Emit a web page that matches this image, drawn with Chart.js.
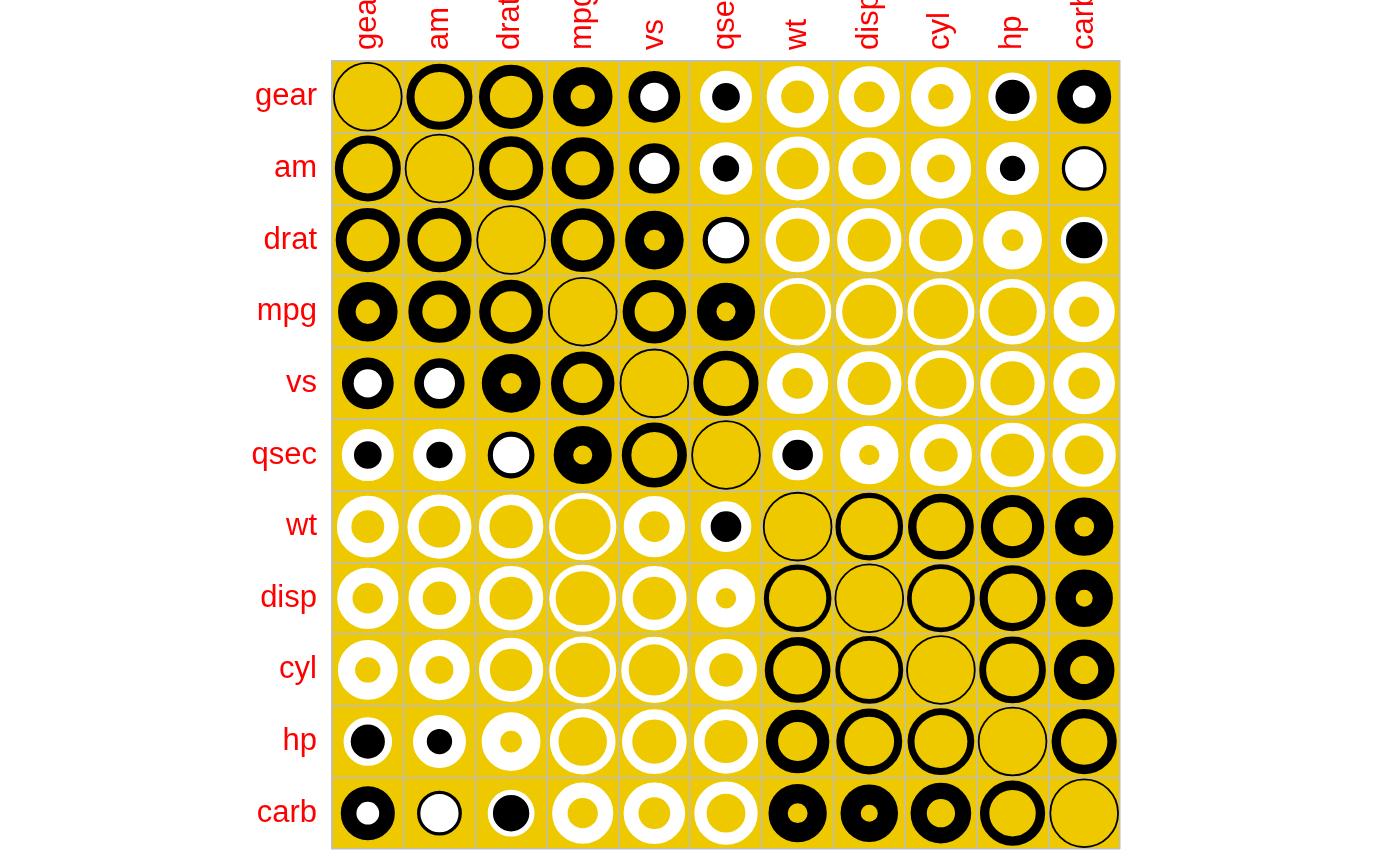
<!DOCTYPE html>
<html>
<head>
<meta charset="utf-8">
<script src="https://cdn.jsdelivr.net/npm/chart.js@4/dist/chart.umd.min.js"></script>
<style>
  html, body { margin: 0; padding: 0; background: #ffffff; }
  #wrap { width: 1400px; height: 866px; position: relative; }
</style>
</head>
<body>
<div id="wrap"><canvas id="c" width="1400" height="866"></canvas></div>
<script>
// Variable order (AOE ordering)
const vars = ['gear', 'am', 'drat', 'mpg', 'vs', 'qsec', 'wt', 'disp', 'cyl', 'hp', 'carb'];

// Correlation rows, one per variable, columns in the order of `vars`
const rowGear = [1.000, 0.794, 0.700, 0.480, 0.206, -0.213, -0.583, -0.556, -0.493, -0.126, 0.274];
const rowAm   = [0.794, 1.000, 0.713, 0.600, 0.168, -0.230, -0.692, -0.591, -0.523, -0.243, 0.058];
const rowDrat = [0.700, 0.713, 1.000, 0.681, 0.440, 0.091, -0.712, -0.710, -0.700, -0.449, -0.091];
const rowMpg  = [0.480, 0.600, 0.681, 1.000, 0.664, 0.419, -0.868, -0.848, -0.852, -0.776, -0.551];
const rowVs   = [0.206, 0.168, 0.440, 0.664, 1.000, 0.745, -0.555, -0.710, -0.811, -0.723, -0.570];
const rowQsec = [-0.213, -0.230, 0.091, 0.419, 0.745, 1.000, -0.175, -0.434, -0.591, -0.708, -0.656];
const rowWt   = [-0.583, -0.692, -0.712, -0.868, -0.555, -0.175, 1.000, 0.888, 0.782, 0.659, 0.428];
const rowDisp = [-0.556, -0.591, -0.710, -0.848, -0.710, -0.434, 0.888, 1.000, 0.902, 0.791, 0.395];
const rowCyl  = [-0.493, -0.523, -0.700, -0.852, -0.811, -0.591, 0.782, 0.902, 1.000, 0.832, 0.527];
const rowHp   = [-0.126, -0.243, -0.449, -0.776, -0.723, -0.708, 0.659, 0.791, 0.832, 1.000, 0.750];
const rowCarb = [0.274, 0.058, -0.091, -0.551, -0.570, -0.656, 0.428, 0.395, 0.527, 0.750, 1.000];

const corrRows = [rowGear, rowAm, rowDrat, rowMpg, rowVs, rowQsec, rowWt, rowDisp, rowCyl, rowHp, rowCarb];

const GOLD = '#EEC900';
const POS = '#000000';
const NEG = '#FFFFFF';
const GRID = '#BEBEBE';
const LABEL = '#FF0000';
const FONT = '"Liberation Sans", Arial, Helvetica, sans-serif';

const points = [];
corrRows.forEach((row, i) => {
  row.forEach((v, j) => points.push({ x: vars[j], y: vars[i], v: v }));
});

function cellSize(chart) {
  const xs = chart.scales.x;
  return (xs.right - xs.left) / vars.length;
}
// geometry of a ring derived from |r|
function ringGeom(v, cell) {
  const a = Math.abs(v);
  const outer = cell * (0.258 + 0.2275 * Math.sqrt(a));
  let w, innerGold;
  if (a >= 0.366) {
    w = cell * (0.025 + 0.425 * (1 - a));
    innerGold = true;
  } else {
    w = cell * 0.796 * a;
    innerGold = false;
  }
  return { outer, w, innerGold };
}

const bgPlugin = {
  id: 'goldBg',
  beforeDraw(chart) {
    const { ctx, chartArea: ca } = chart;
    ctx.save();
    ctx.fillStyle = GOLD;
    ctx.fillRect(ca.left, ca.top, ca.right - ca.left, ca.bottom - ca.top);
    ctx.restore();
  }
};

new Chart(document.getElementById('c'), {
  type: 'scatter',
  data: {
    datasets: [{
      data: points,
      pointStyle: 'circle',
      pointRadius: (ctx) => {
        if (!ctx.raw) return 0;
        const g = ringGeom(ctx.raw.v, cellSize(ctx.chart));
        return Math.max(0, g.outer - g.w / 2);
      },
      pointBorderWidth: (ctx) => {
        if (!ctx.raw) return 0;
        return ringGeom(ctx.raw.v, cellSize(ctx.chart)).w;
      },
      pointBorderColor: (ctx) => (ctx.raw && ctx.raw.v < 0) ? NEG : POS,
      pointBackgroundColor: (ctx) => {
        if (!ctx.raw) return GOLD;
        const g = ringGeom(ctx.raw.v, cellSize(ctx.chart));
        if (g.innerGold) return GOLD;
        return ctx.raw.v < 0 ? POS : NEG;
      },
      pointHoverRadius: 0,
      clip: false
    }]
  },
  options: {
    responsive: false,
    animation: false,
    events: [],
    layout: { padding: { left: 0, right: 280, top: 0, bottom: 17 } },
    plugins: { legend: { display: false }, tooltip: { enabled: false } },
    scales: {
      x: {
        type: 'category',
        labels: vars,
        position: 'top',
        offset: true,
        grid: { offset: true, color: GRID, lineWidth: 1.5, drawTicks: false },
        border: { display: true, color: GRID, width: 1.5 },
        ticks: {
          color: LABEL,
          font: { family: FONT, size: 31 },
          minRotation: 90,
          maxRotation: 90,
          autoSkip: false,
          padding: 11,
          labelOffset: 37
        },
        afterFit(scale) {
          scale.height = 61;
          scale.paddingLeft = 0; scale.paddingRight = 0;
          scale.paddingTop = 0; scale.paddingBottom = 0;
        }
      },
      y: {
        type: 'category',
        labels: vars,
        position: 'left',
        offset: true,
        grid: { offset: true, color: GRID, lineWidth: 1.5, drawTicks: false },
        border: { display: true, color: GRID, width: 1.5 },
        ticks: {
          color: LABEL,
          font: { family: FONT, size: 31 },
          autoSkip: false,
          padding: 15
        },
        afterFit(scale) {
          scale.width = 332;
          scale.paddingLeft = 0; scale.paddingRight = 0;
          scale.paddingTop = 0; scale.paddingBottom = 0;
        }
      }
    }
  },
  plugins: [bgPlugin]
});
</script>
</body>
</html>
